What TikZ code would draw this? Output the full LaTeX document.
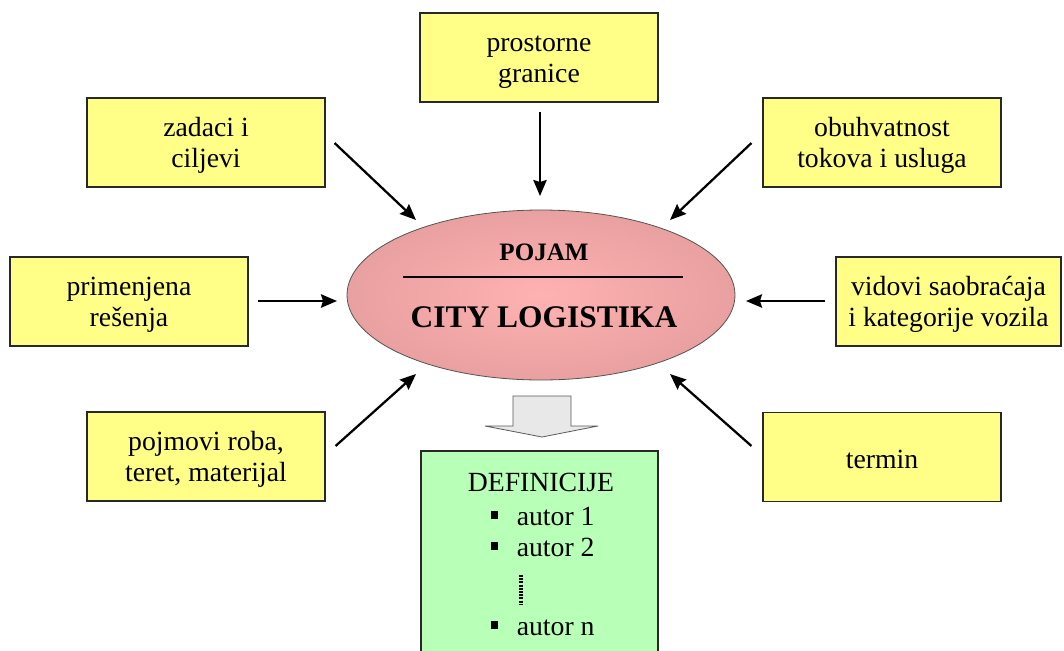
\documentclass[tikz,border=0pt]{standalone}
\usepackage{fontspec}
\setmainfont{Liberation Serif}
\usetikzlibrary{arrows.meta,calc,shapes.geometric}
\definecolor{yfill}{RGB}{255,255,136}
\definecolor{gfill}{RGB}{184,255,184}
\definecolor{pinkin}{RGB}{255,178,178}
\definecolor{pinkout}{RGB}{233,160,160}
\definecolor{hollow}{RGB}{232,232,232}
\definecolor{edge}{RGB}{40,40,40}
\begin{document}
\begin{tikzpicture}[x=0.75pt,y=-0.75pt,
  ybox/.style={draw=edge, line width=0.8pt, fill=yfill, rectangle, inner sep=0pt,
    minimum width=178.5pt, minimum height=66.75pt},
  btxt/.style={align=center, inner sep=0pt, font=\fontsize{20.8}{23.3}\selectfont},
  arr/.style={line width=1.7pt, -{Stealth[length=12pt,width=10pt,inset=1.5pt]}},
  txt/.style={font=\fontsize{20.8}{24}\selectfont, inner sep=0pt},
  bul/.style={fill=black, rectangle, inner sep=0pt, minimum size=5.8pt}]
\useasboundingbox (0,0) rectangle (1064,650);

% central ellipse
\node[ellipse, draw=edge!80, line width=0.6pt, inner color=pinkin, outer color=pinkout,
  minimum width=291pt, minimum height=127.5pt] (pojam) at (541,295) {};
\node[font=\fontsize{18.8}{22}\selectfont\bfseries, inner sep=0pt] (pojamtxt) at (544,252) {POJAM};
\draw[line width=2.2pt] ($(pojam.center)+(-138,-18)$) coordinate (l1) -- ($(pojam.center)+(142,-18)$) coordinate (l2);
\node[font=\fontsize{23.6}{28}\selectfont\bfseries, inner sep=0pt] (city) at (544,317) {CITY LOGISTIKA};

% surrounding boxes
\node[ybox] (prost) at (539,57.5) {};
\node[btxt] (prostT) at ($(prost.center)+(0,5)$) {prostorne\\granice};
\node[ybox] (zad) at (206,142.5) {};
\node[btxt] (zadT) at ($(zad.center)+(0,3)$) {zadaci i\\ciljevi};
\node[ybox] (obuh) at (882,142.5) {};
\node[btxt] (obuhT) at ($(obuh.center)+(0,3)$) {obuhvatnost\\tokova i usluga};
\node[ybox] (prim) at (129,301.5) {};
\node[btxt] (primT) at ($(prim.center)+(0,3)$) {primenjena\\rešenja};
\node[ybox, minimum width=168.75pt] (vid) at (948.5,301.5) {};
\node[btxt] (vidT) at ($(vid.center)+(0,3)$) {vidovi saobraćaja\\i kategorije vozila};
\node[ybox] (pojm) at (206,456.5) {};
\node[btxt] (pojmT) at ($(pojm.center)+(0,3)$) {pojmovi roba,\\teret, materijal};
\node[ybox] (term) at (882,457) {};
\node[btxt] (termT) at ($(term.center)+(0,2)$) {termin};

% arrows
\draw[arr] ($(zad.east)+(9,0.5)$) -- ($(pojam.center)+(-125,-75)$);
\draw[arr] ($(prost.south)+(1,9)$) -- ($(pojam.center)+(-1,-99)$);
\draw[arr] ($(obuh.west)+(-11,0.5)$) -- ($(pojam.center)+(129,-75)$);
\draw[arr] ($(prim.east)+(9,-0.5)$) -- ($(pojam.center)+(-204,6)$);
\draw[arr] ($(vid.west)+(-10,-0.5)$) -- ($(pojam.center)+(205,6)$);
\draw[arr] ($(pojm.east)+(10,-10.5)$) -- ($(pojam.center)+(-125,79)$);
\draw[arr] ($(term.west)+(-11,-11)$) -- ($(pojam.center)+(129,79)$);

% hollow block arrow
\draw[fill=hollow, draw=gray!70!black, line width=0.6pt]
  (513,396) -- (571,396) -- (571,426) -- (598,426) -- (542,437) -- (485,426) -- (513,426) -- cycle;

% definitions box
\draw[draw=edge, line width=0.8pt, fill=gfill] (421,451) rectangle (658,655);
\node[txt] (def) at (541,482) {DEFINICIJE};
\node[bul] (b1) at (494.5,515) {};
\node[txt, anchor=base west] (a1) at (516.5,525) {autor 1};
\node[bul] (b2) at (494.5,546) {};
\node[txt, anchor=base west] (a2) at (516.5,556) {autor 2};
\draw[line width=2.4pt, dash pattern=on 1.5pt off 0.9pt] (521,575) coordinate (d1) -- (521,605) coordinate (d2);
\node[bul] (b3) at (494.5,625) {};
\node[txt, anchor=base west] (a3) at (516.5,635) {autor n};
\end{tikzpicture}
\end{document}
